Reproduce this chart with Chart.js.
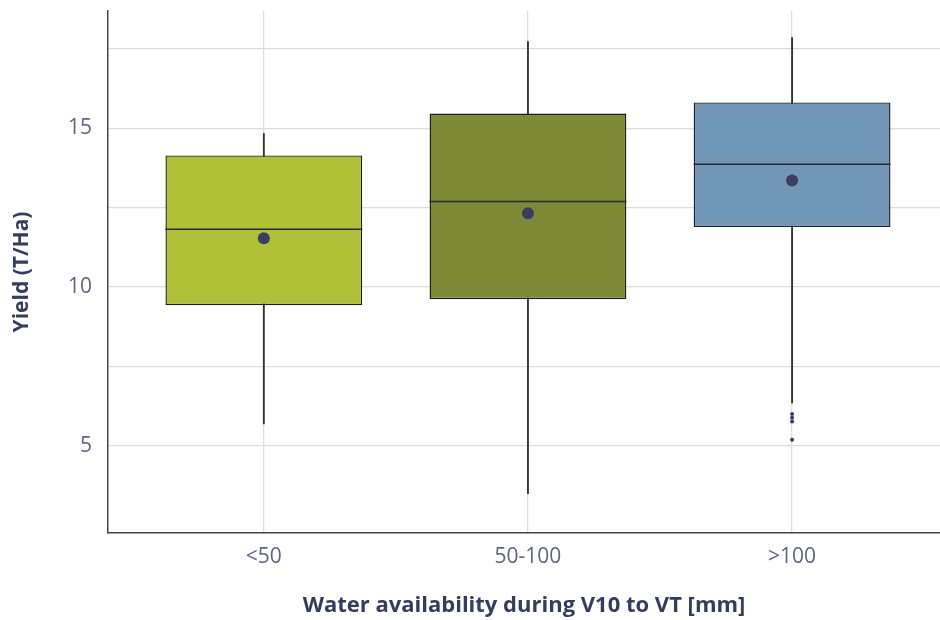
<!DOCTYPE html>
<html>
<head>
<meta charset="utf-8">
<script src="https://cdn.jsdelivr.net/npm/chart.js@4.4.1/dist/chart.umd.min.js"></script>
<style>
  html, body { margin: 0; padding: 0; background: #fff; }
  #wrap { width: 940px; height: 620px; }
</style>
</head>
<body>
<div id="wrap"><canvas id="boxChart"></canvas></div>
<script>
// box plot values (T/Ha)
const categories = ['<50', '50-100', '>100'];
const q1 = [9.43, 9.62, 11.89];
const q3 = [14.15, 15.47, 15.82];
const medians = [11.82, 12.70, 13.87];
const means = [11.54, 12.33, 13.36];
const whiskerLow = [5.69, 3.49, 6.35];
const whiskerHigh = [14.84, 17.74, 17.86];
const outliers = [[], [], [6.0, 5.88, 5.76, 5.19]];
const yGrid = [5, 7.5, 10, 12.5, 15, 17.5];
const yLabels = [5, 10, 15];

const boxColors = ['#afc038', '#7e8a37', '#7196b6'];
const fontFamily = "'Open Sans', sans-serif";

// draws the median line across each box
const medianLines = {
    id: 'medianLines',
    afterDatasetsDraw(chart) {
        const meta = chart.getDatasetMeta(1);
        const ctx = chart.ctx;
        ctx.save();
        ctx.strokeStyle = '#2b2b2b';
        ctx.lineWidth = 1.5;
        meta.data.forEach(function (bar, i) {
            const y = chart.scales.y.getPixelForValue(medians[i]);
            ctx.beginPath();
            ctx.moveTo(bar.x - bar.width / 2, y);
            ctx.lineTo(bar.x + bar.width / 2, y);
            ctx.stroke();
        });
        ctx.restore();
    }
};

const outlierPoints = [];
outliers.forEach(function (list, i) {
    list.forEach(function (v) { outlierPoints.push({ x: i, y: v }); });
});

new Chart(document.getElementById('boxChart'), {
    type: 'bar',
    data: {
        datasets: [
            {
                label: 'whiskers',
                data: categories.map((c, i) => ({ x: i, y: [whiskerLow[i], whiskerHigh[i]] })),
                backgroundColor: '#333333',
                barThickness: 1.2,
                grouped: false,
                order: 3
            },
            {
                label: 'boxes',
                data: categories.map((c, i) => ({ x: i, y: [q1[i], q3[i]] })),
                backgroundColor: boxColors,
                borderColor: '#1e1e1e',
                borderWidth: 1.4,
                borderSkipped: false,
                barPercentage: 0.745,
                categoryPercentage: 1,
                grouped: false,
                order: 2
            },
            {
                type: 'scatter',
                label: 'mean',
                data: categories.map((c, i) => ({ x: i, y: means[i] })),
                backgroundColor: '#383f63',
                borderWidth: 0,
                pointRadius: 6,
                order: 0
            },
            {
                type: 'scatter',
                label: 'outliers',
                data: outlierPoints,
                backgroundColor: '#383f63',
                borderWidth: 0,
                pointRadius: 2,
                order: 1
            }
        ]
    },
    options: {
        responsive: true,
        maintainAspectRatio: false,
        animation: false,
        layout: { autoPadding: false, padding: { top: 11, right: 0, left: 0, bottom: 0 } },
        plugins: {
            legend: { display: false },
            tooltip: { enabled: false }
        },
        scales: {
            x: {
                type: 'linear',
                offset: false,
                min: -0.59,
                max: 2.56,
                afterBuildTicks: function (scale) {
                    scale.ticks = categories.map((c, i) => ({ value: i }));
                },
                afterFit: function (scale) {
                    scale.height = 87;
                    scale.paddingLeft = 0;
                    scale.paddingRight = 0;
                },
                ticks: {
                    callback: function (value) { return categories[value]; },
                    color: '#5f6682',
                    font: { family: fontFamily, size: 21 },
                    padding: 11,
                    maxRotation: 0
                },
                grid: { color: '#dcdcdc', lineWidth: 1.3, drawTicks: false, offset: false },
                border: { display: true, color: '#444', width: 1.5 },
                title: {
                    display: true,
                    text: 'Water availability during V10 to VT [mm]',
                    color: '#353d5e',
                    font: { family: fontFamily, size: 22, weight: 'bold' },
                    padding: { top: 0, bottom: 1 }
                }
            },
            y: {
                min: 2.25,
                max: 18.7,
                afterBuildTicks: function (scale) {
                    scale.ticks = yGrid.map(v => ({ value: v }));
                },
                afterFit: function (scale) {
                    scale.width = 108;
                    scale.paddingTop = 0;
                    scale.paddingBottom = 0;
                },
                ticks: {
                    callback: function (value) { return yLabels.includes(value) ? String(value) : ''; },
                    color: '#5f6682',
                    font: { family: fontFamily, size: 21 },
                    padding: 16
                },
                grid: { color: '#dcdcdc', lineWidth: 1.3, drawTicks: false },
                border: { display: true, color: '#444', width: 1.5 },
                title: {
                    display: true,
                    text: 'Yield (T/Ha)',
                    color: '#353d5e',
                    font: { family: fontFamily, size: 21, weight: 'bold' },
                    padding: { top: 9, bottom: 0 }
                }
            }
        }
    },
    plugins: [medianLines]
});
</script>
</body>
</html>
